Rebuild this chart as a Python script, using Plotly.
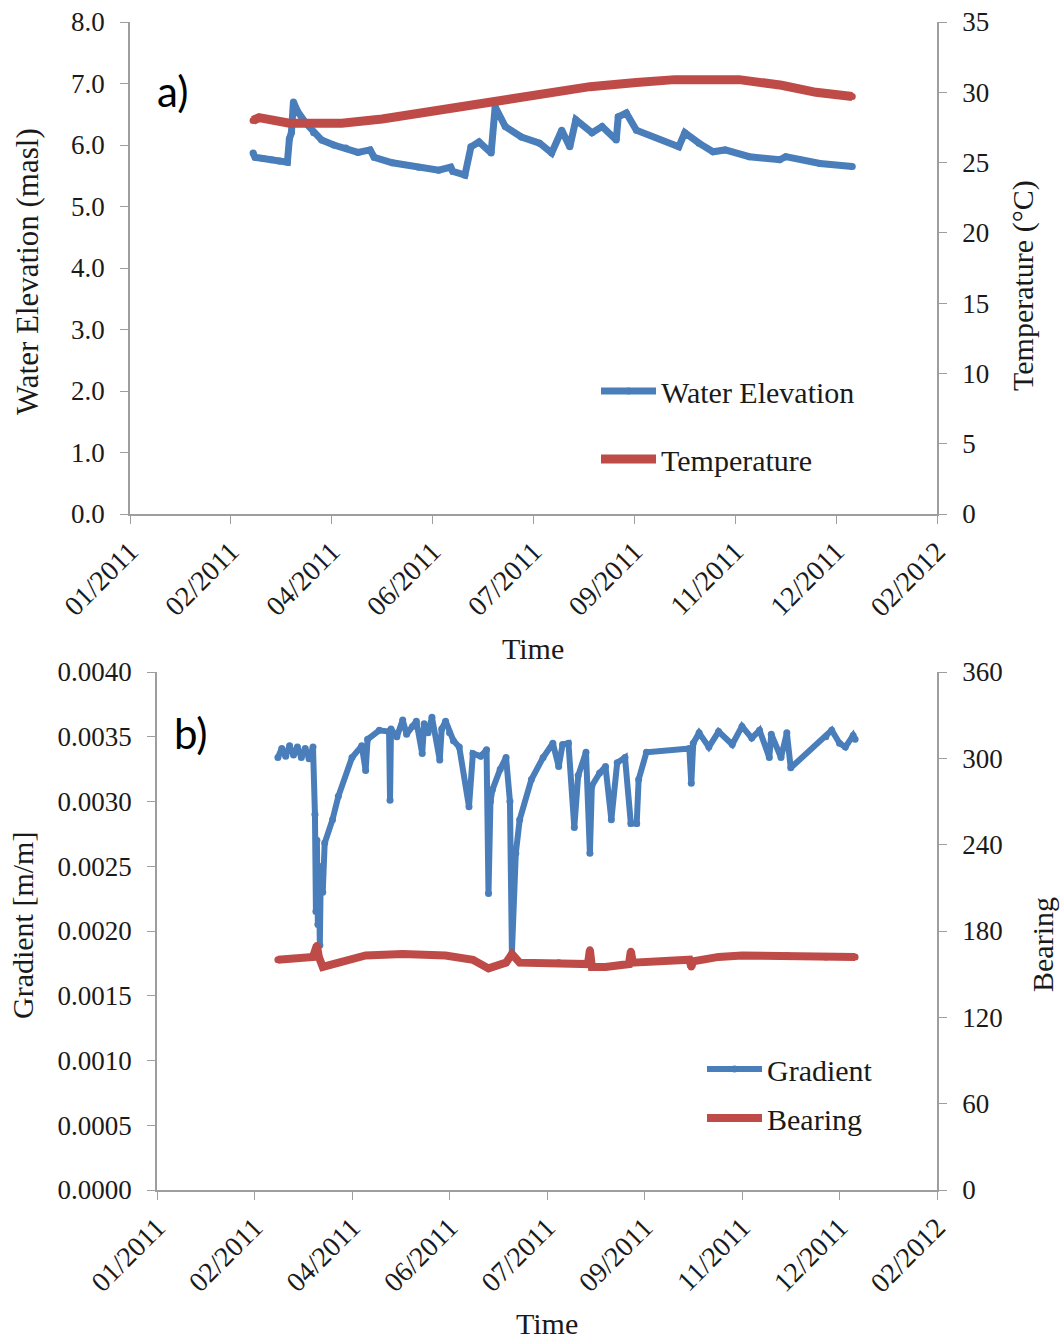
import plotly.graph_objects as go

# ---------------- data ----------------
elev_dates = ["2011-03-07", "2011-03-08", "2011-03-12", "2011-03-16", "2011-03-20", "2011-03-24",
              "2011-03-25", "2011-03-26", "2011-03-27", "2011-03-29", "2011-04-02", "2011-04-06",
              "2011-04-10", "2011-04-16", "2011-04-22", "2011-04-28", "2011-05-04", "2011-05-06",
              "2011-05-15", "2011-05-28", "2011-06-07", "2011-06-13", "2011-06-14", "2011-06-20",
              "2011-06-23", "2011-06-27", "2011-07-03", "2011-07-05", "2011-07-10", "2011-07-18",
              "2011-07-27", "2011-08-02", "2011-08-07", "2011-08-11", "2011-08-14", "2011-08-22",
              "2011-08-27", "2011-09-03", "2011-09-04", "2011-09-08", "2011-09-13", "2011-10-04",
              "2011-10-07", "2011-10-14", "2011-10-21", "2011-10-27", "2011-11-08", "2011-11-23",
              "2011-11-26", "2011-12-13", "2011-12-29"]
elev_values = [5.87, 5.80, 5.78, 5.76, 5.74, 5.72,
               6.10, 6.20, 6.70, 6.55, 6.36, 6.20,
               6.08, 6.00, 5.95, 5.88, 5.92, 5.80,
               5.71, 5.64, 5.59, 5.64, 5.57, 5.51,
               5.97, 6.05, 5.87, 6.62, 6.30, 6.13,
               6.03, 5.87, 6.24, 5.97, 6.41, 6.20,
               6.30, 6.08, 6.46, 6.52, 6.24, 5.97,
               6.20, 6.03, 5.89, 5.92, 5.81, 5.76,
               5.81, 5.70, 5.65]

temp_dates = ["2011-03-07", "2011-03-10", "2011-03-25", "2011-04-20", "2011-05-10", "2011-06-07",
              "2011-07-01", "2011-07-27", "2011-08-21", "2011-09-13", "2011-10-02", "2011-11-03",
              "2011-11-24", "2011-12-11", "2011-12-29"]
temp_values = [28.0, 28.2, 27.8, 27.8, 28.1, 28.7,
               29.3, 29.9, 30.4, 30.7, 30.9, 30.9,
               30.5, 30.0, 29.7]

grad_dates = ["2011-03-08", "2011-03-10", "2011-03-12", "2011-03-14", "2011-03-16", "2011-03-18",
              "2011-03-20", "2011-03-22", "2011-03-24", "2011-03-26", "2011-03-27", "2011-03-27 12:00",
              "2011-03-28", "2011-03-28 12:00", "2011-03-29", "2011-03-29 12:00", "2011-03-30",
              "2011-03-31", "2011-04-01", "2011-04-05", "2011-04-08", "2011-04-15", "2011-04-20",
              "2011-04-22", "2011-04-23", "2011-04-29", "2011-05-04", "2011-05-04 12:00", "2011-05-05",
              "2011-05-08", "2011-05-11", "2011-05-13", "2011-05-16", "2011-05-18", "2011-05-21",
              "2011-05-22", "2011-05-24", "2011-05-26", "2011-05-30", "2011-05-31", "2011-06-02",
              "2011-06-04", "2011-06-06", "2011-06-09", "2011-06-14", "2011-06-16", "2011-06-20",
              "2011-06-23", "2011-06-24", "2011-06-25", "2011-06-26", "2011-06-30", "2011-07-03",
              "2011-07-05", "2011-07-06", "2011-07-08", "2011-07-10", "2011-07-16", "2011-07-22",
              "2011-07-27", "2011-07-30", "2011-08-01", "2011-08-04", "2011-08-07", "2011-08-09",
              "2011-08-13", "2011-08-15", "2011-08-16", "2011-08-20", "2011-08-23", "2011-08-26",
              "2011-08-29", "2011-09-02", "2011-09-05", "2011-09-08", "2011-09-09", "2011-09-13",
              "2011-10-05", "2011-10-06", "2011-10-07", "2011-10-10", "2011-10-15", "2011-10-20",
              "2011-10-27", "2011-11-01", "2011-11-06", "2011-11-10", "2011-11-15", "2011-11-16",
              "2011-11-21", "2011-11-24", "2011-11-26", "2011-12-14", "2011-12-17", "2011-12-21",
              "2011-12-24", "2011-12-28", "2011-12-29"]
grad_values = [0.00334, 0.00341, 0.00335, 0.00343, 0.00336, 0.00342,
               0.00334, 0.00341, 0.00333, 0.00342, 0.00290, 0.00215,
               0.00270, 0.00205, 0.00250, 0.00189, 0.00245,
               0.00230, 0.00268, 0.00286, 0.00304, 0.00334, 0.00343,
               0.00324, 0.00348, 0.00355, 0.00354, 0.00301, 0.00356,
               0.00350, 0.00363, 0.00352, 0.00358, 0.00362, 0.00337,
               0.00360, 0.00353, 0.00365, 0.00332, 0.00356, 0.00362,
               0.00353, 0.00347, 0.00342, 0.00296, 0.00337, 0.00335,
               0.00340, 0.00229, 0.00300, 0.00309, 0.00325, 0.00334,
               0.00300, 0.00183, 0.00260, 0.00286, 0.00317, 0.00334,
               0.00345, 0.00327, 0.00344, 0.00345, 0.00280, 0.00320,
               0.00338, 0.00260, 0.00312, 0.00322, 0.00327, 0.00286,
               0.00330, 0.00334, 0.00283, 0.00283, 0.00317, 0.00338,
               0.00341, 0.00314, 0.00345, 0.00353, 0.00342, 0.00354,
               0.00344, 0.00358, 0.00349, 0.00355, 0.00334, 0.00352,
               0.00334, 0.00353, 0.00326, 0.00350, 0.00355, 0.00345,
               0.00342, 0.00351, 0.00348]

bear_dates = ["2011-03-08", "2011-03-26", "2011-03-28", "2011-03-29", "2011-03-31", "2011-04-08",
              "2011-04-22", "2011-05-11", "2011-06-02", "2011-06-16", "2011-06-24", "2011-07-03",
              "2011-07-06", "2011-07-10", "2011-07-30", "2011-08-14", "2011-08-15", "2011-08-16",
              "2011-08-23", "2011-09-04", "2011-09-05", "2011-09-06", "2011-10-05", "2011-10-06",
              "2011-10-07", "2011-10-20", "2011-11-01", "2011-11-24", "2011-12-14", "2011-12-29"]
bear_values = [160, 162, 170, 162, 155, 158,
               163, 164, 163, 160, 154, 158,
               164, 158, 158, 157, 167, 155,
               155, 157, 166, 158, 160, 155,
               159, 162, 163, 163, 162, 162]

tick_dates = ["2011-01-05", "2011-02-24", "2011-04-15", "2011-06-04", "2011-07-24",
              "2011-09-12", "2011-11-01", "2011-12-21", "2012-02-09"]
tick_labels = ["01/2011", "02/2011", "04/2011", "06/2011", "07/2011",
               "09/2011", "11/2011", "12/2011", "02/2012"]

# ---------------- style ----------------
BLUE = "#4A7EBB"
RED = "#BE4B48"
AXC = "#9E9E9E"
SERIF = "Times New Roman"
TXT = "#1a1a1a"
TICKSIZE = 27
XTICKSIZE = 28
TITLESIZE = 30
W, H = 1064, 1341


def px_x(p):
    return p / W


def px_y(p):
    return 1 - p / H


fig = go.Figure()

fig.add_trace(go.Scatter(x=elev_dates, y=elev_values, name="Water Elevation", mode="lines+markers",
                         line=dict(color=BLUE, width=7), marker=dict(color=BLUE, size=7),
                         xaxis="x", yaxis="y", legend="legend", legendgroup="a1"))
fig.add_trace(go.Scatter(x=temp_dates, y=temp_values, name="Temperature", mode="lines+markers",
                         line=dict(color=RED, width=9), marker=dict(color=RED, size=7),
                         xaxis="x", yaxis="y2", legend="legend", legendgroup="a2"))
fig.add_trace(go.Scatter(x=grad_dates, y=grad_values, name="Gradient", mode="lines+markers",
                         line=dict(color=BLUE, width=6), marker=dict(color=BLUE, size=7),
                         xaxis="x2", yaxis="y3", legend="legend2", legendgroup="b1"))
fig.add_trace(go.Scatter(x=bear_dates, y=bear_values, name="Bearing", mode="lines+markers",
                         line=dict(color=RED, width=8), marker=dict(color=RED, size=7),
                         xaxis="x2", yaxis="y4", legend="legend2", legendgroup="b2"))

xcommon = dict(type="date", range=["2011-01-05", "2012-02-09"], tickvals=tick_dates,
               ticktext=tick_labels, tickangle=-45, showline=True, linecolor=AXC, linewidth=1.5,
               ticks="outside", tickcolor=AXC, ticklen=8, showgrid=False, zeroline=False,
               automargin=False,
               tickfont=dict(family=SERIF, size=XTICKSIZE, color=TXT))
ycommon = dict(showline=True, linecolor=AXC, linewidth=1.5, ticks="outside", tickcolor=AXC,
               ticklen=8, showgrid=False, zeroline=False, automargin=False,
               tickfont=dict(family=SERIF, size=TICKSIZE, color=TXT))

fig.update_layout(
    width=W, height=H, autosize=False,
    margin=dict(l=0, r=0, t=0, b=0, autoexpand=False),
    font=dict(family=SERIF, size=TICKSIZE, color=TXT),
    paper_bgcolor="white", plot_bgcolor="white",
    xaxis=dict(domain=[px_x(130), px_x(937)], anchor="y", **xcommon),
    yaxis=dict(domain=[px_y(514), px_y(22)], anchor="x", range=[0, 8], dtick=1,
               tickformat=".1f", ticklabelstandoff=10, **ycommon),
    yaxis2=dict(overlaying="y", side="right", anchor="x", range=[0, 35], dtick=5,
                ticklabelstandoff=10, **ycommon),
    xaxis2=dict(domain=[px_x(157), px_x(937)], anchor="y3", **xcommon),
    yaxis3=dict(domain=[px_y(1190), px_y(672)], anchor="x2", range=[0, 0.004], dtick=0.0005,
                tickformat=".4f", ticklabelstandoff=10, **ycommon),
    yaxis4=dict(overlaying="y3", side="right", anchor="x2", range=[0, 360], dtick=60,
                ticklabelstandoff=10, **ycommon),
    legend=dict(x=px_x(596), y=px_y(365), xanchor="left", yanchor="top", bgcolor="rgba(0,0,0,0)",
                font=dict(family=SERIF, size=TITLESIZE, color=TXT), itemwidth=55,
                tracegroupgap=26, traceorder="grouped"),
    legend2=dict(x=px_x(702), y=px_y(1043), xanchor="left", yanchor="top", bgcolor="rgba(0,0,0,0)",
                 font=dict(family=SERIF, size=TITLESIZE, color=TXT), itemwidth=55,
                 tracegroupgap=7, traceorder="grouped"),
    showlegend=True,
)

ann_font = dict(family=SERIF, size=TITLESIZE, color=TXT)
annotations = [
    dict(text="Water Elevation (masl)", x=px_x(27), y=px_y(272), textangle=-90,
         font=dict(family=SERIF, size=31, color=TXT)),
    dict(text="Temperature (°C)", x=px_x(1023), y=px_y(286), textangle=-90, font=ann_font),
    dict(text="Time", x=px_x(533), y=px_y(648), font=ann_font),
    dict(text="Gradient [m/m]", x=px_x(22), y=px_y(926), textangle=-90, font=ann_font),
    dict(text="Bearing", x=px_x(1042), y=px_y(945), textangle=-90, font=ann_font),
    dict(text="Time", x=px_x(547), y=px_y(1323), font=ann_font),
    dict(text="a)", x=px_x(172), y=px_y(91), font=dict(family="Lato", size=42, color="#000")),
    dict(text="b)", x=px_x(191), y=px_y(733), font=dict(family="Lato", size=42, color="#000")),
]
for a in annotations:
    a.update(xref="paper", yref="paper", showarrow=False, xanchor="center", yanchor="middle")
fig.update_layout(annotations=annotations)

fig.write_html("out.html")
